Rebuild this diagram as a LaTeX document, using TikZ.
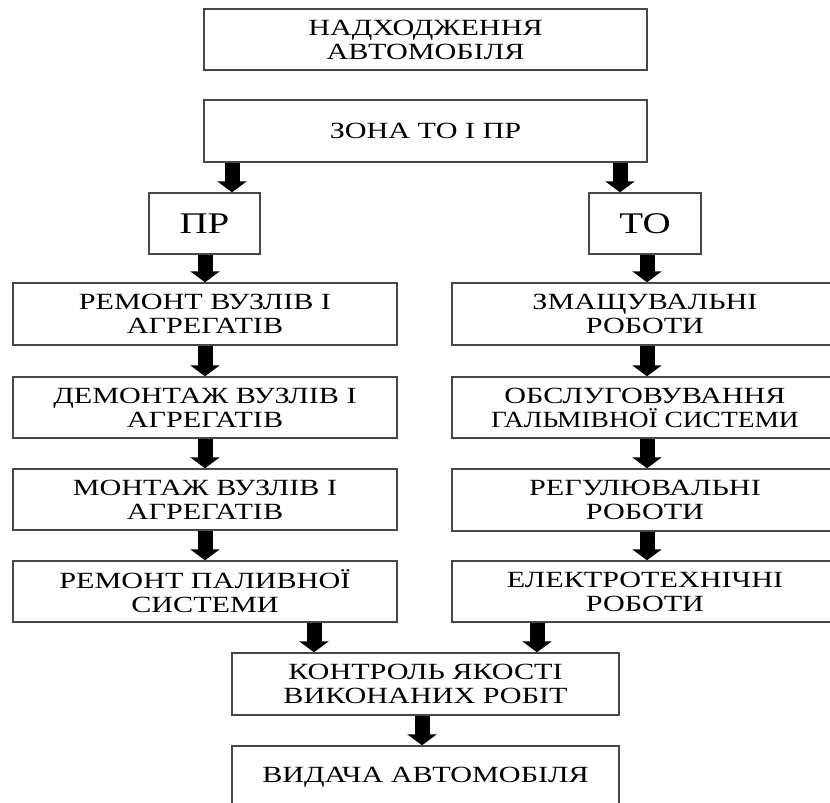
\documentclass[tikz,border=0pt]{standalone}
\usepackage{fontspec}
\setmainfont{Liberation Serif}[FakeStretch=1.30]
\usetikzlibrary{arrows.meta}
\newcommand\boxtextfont{\fontsize{23.2pt}{24pt}\selectfont\lineskiplimit -20pt\relax}
\newcommand\bigtextfont{\fontsize{30pt}{32pt}\selectfont}
\tikzset{
  box/.style={draw=black!72, line width=1.4pt, inner sep=0pt, align=center,
    font=\boxtextfont},
  bigbox/.style={box, font=\bigtextfont},
  flow/.style={line width=15pt, -{Triangle[width=29pt,length=11pt]}},
}
\begin{document}
\begin{tikzpicture}[x=1pt,y=-1pt]
\useasboundingbox (0,0) rectangle (830,803);
\clip (0,0) rectangle (830,803);
\fill[white] (0,0) rectangle (830,803);

% top of the flow
\node[box, minimum width=443pt, minimum height=61pt] (arrive) at (425.5,39.5) {НАДХОДЖЕННЯ\\АВТОМОБІЛЯ};
\node[box, minimum width=443pt, minimum height=62pt] (zone) at (425.5,131) {ЗОНА ТО І ПР};

% two branches
\node[bigbox, minimum width=111pt, minimum height=61pt] (pr) at (204.5,223.5) {ПР};
\node[bigbox, minimum width=112pt, minimum height=61pt] (to) at (645,223.5) {ТО};

% repair branch
\node[box, minimum width=384pt, minimum height=62pt] (l1) at (205,314) {РЕМОНТ ВУЗЛІВ І\\АГРЕГАТІВ};
\node[box, minimum width=384pt, minimum height=61pt] (l2) at (205,407.5) {ДЕМОНТАЖ ВУЗЛІВ І\\АГРЕГАТІВ};
\node[box, minimum width=384pt, minimum height=61pt] (l3) at (205,499.5) {МОНТАЖ ВУЗЛІВ І\\АГРЕГАТІВ};
\node[box, minimum width=384pt, minimum height=61pt] (l4) at (205,591.5) {РЕМОНТ ПАЛИВНОЇ\\СИСТЕМИ};

% maintenance branch
\node[box, minimum width=386pt, minimum height=62pt] (r1) at (645,314) {ЗМАЩУВАЛЬНІ\\РОБОТИ};
\node[box, minimum width=386pt, minimum height=61pt] (r2) at (645,407.5) {ОБСЛУГОВУВАННЯ\\\scalebox{0.91}[1]{ГАЛЬМІВНОЇ СИСТЕМИ}};
\node[box, minimum width=386pt, minimum height=62pt] (r3) at (645,500) {РЕГУЛЮВАЛЬНІ\\РОБОТИ};
\node[box, minimum width=386pt, minimum height=61pt] (r4) at (645,591.5) {ЕЛЕКТРОТЕХНІЧНІ\\РОБОТИ};

% merge and exit
\node[box, minimum width=387pt, minimum height=62pt] (check) at (425.5,684) {КОНТРОЛЬ ЯКОСТІ\\ВИКОНАНИХ РОБІТ};
\node[box, minimum width=387pt, minimum height=62pt] (out) at (425.5,777) {ВИДАЧА АВТОМОБІЛЯ};

% arrow columns
\coordinate (ca) at (232,0);
\coordinate (cb) at (620,0);
\coordinate (cl) at (205,0);
\coordinate (cr) at (647,0);
\coordinate (cm1) at (314,0);
\coordinate (cm2) at (537,0);
\coordinate (cc) at (422,0);

\draw[flow] (ca |- zone.south) -- (ca |- pr.north);
\draw[flow] (cb |- zone.south) -- (cb |- to.north);

\draw[flow] (cl |- pr.south) -- (cl |- l1.north);
\draw[flow] (cl |- l1.south) -- (cl |- l2.north);
\draw[flow] (cl |- l2.south) -- (cl |- l3.north);
\draw[flow] (cl |- l3.south) -- (cl |- l4.north);

\draw[flow] (cr |- to.south) -- (cr |- r1.north);
\draw[flow] (cr |- r1.south) -- (cr |- r2.north);
\draw[flow] (cr |- r2.south) -- (cr |- r3.north);
\draw[flow] (cr |- r3.south) -- (cr |- r4.north);

\draw[flow] (cm1 |- l4.south) -- (cm1 |- check.north);
\draw[flow] (cm2 |- r4.south) -- (cm2 |- check.north);
\draw[flow] (cc |- check.south) -- (cc |- out.north);
\end{tikzpicture}
\end{document}
